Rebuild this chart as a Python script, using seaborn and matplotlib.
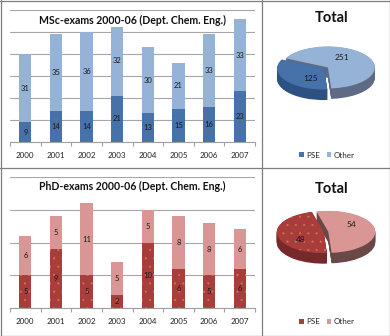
import numpy as np
import pandas as pd
import matplotlib
matplotlib.use("Agg")
import matplotlib.pyplot as plt
import seaborn as sns
from matplotlib.lines import Line2D

# ---- data -------------------------------------------------------------
years = ["2000", "2001", "2002", "2003", "2004", "2005", "2006", "2007"]
msc_pse = [9, 14, 14, 21, 13, 15, 16, 23]
msc_other = [31, 35, 36, 32, 30, 21, 33, 33]
phd_pse = [5, 9, 5, 2, 10, 6, 5, 6]
phd_other = [6, 5, 11, 5, 5, 8, 8, 6]
series_names = ["PSE", "Other"]

# ---- style ------------------------------------------------------------
sns.set_theme(style="white")
plt.rcParams["font.family"] = ["Lato", "DejaVu Sans"]
plt.rcParams["hatch.linewidth"] = 0.3

W, H = 390, 336
fig = plt.figure(figsize=(W / 100, H / 100), dpi=100)
fig.patch.set_facecolor("white")


def px_axes(x0, y0, x1, y1):
    """Axes placed by pixel box (top-left origin)."""
    return fig.add_axes([x0 / W, 1 - y1 / H, (x1 - x0) / W, (y1 - y0) / H])


def stacked_bars(ax, pse, other, dark, light, title, ymax, step, hatch=None, dotcolor=None):
    df = pd.DataFrame({"year": years, "PSE": pse, "Other": other})
    df["Total"] = df["PSE"] + df["Other"]
    kw = dict(saturation=1, width=0.4, ax=ax, linewidth=0)
    sns.barplot(data=df, x="year", y="Total", color=light, **kw)
    if hatch:
        kw.update(hatch=hatch, edgecolor=dotcolor)
    sns.barplot(data=df, x="year", y="PSE", color=dark, **kw)

    # value labels inside each segment
    ax.bar_label(ax.containers[1], labels=[str(v) for v in pse],
                 label_type="center", fontsize=5.5, color="#1a1a1a")
    for i, (p, o) in enumerate(zip(pse, other)):
        ax.text(i, p + o / 2, str(o), ha="center", va="center",
                fontsize=5.5, color="#1a1a1a")

    ax.set_ylim(0, ymax)
    ax.set_xlim(-0.5, len(years) - 0.5)
    ax.set_yticks(np.arange(0, ymax + step, step))
    ax.set_yticklabels([])
    ax.yaxis.grid(True, color="#a6a6a6", linewidth=0.8)
    ax.set_axisbelow(True)
    ax.set_xlabel("")
    ax.set_ylabel("")
    for s in ["top", "right", "left"]:
        ax.spines[s].set_visible(False)
    ax.spines["bottom"].set_color("#a0a0a0")
    ax.spines["bottom"].set_linewidth(0.8)
    ax.set_xticks(range(len(years)))
    ax.set_xticklabels(years, fontsize=5.8, color="#222222")
    ax.set_xticks(np.arange(-0.5, len(years), 1), minor=True)
    ax.tick_params(axis="x", which="major", length=0, pad=7)
    ax.tick_params(axis="x", which="minor", bottom=True, length=3,
                   width=0.8, color="#a0a0a0")
    ax.tick_params(axis="y", length=0)
    ax.text(0.5, 1 - 10 / 132, title, transform=ax.transAxes, ha="center",
            va="center", fontsize=7.6, fontweight="bold", color="#111111",
            bbox=dict(facecolor="white", edgecolor="none", pad=1.0))


def pie_3d(ax, values, top_colors, side_colors, hatch=None, dotcolor=None):
    total = sum(values)
    depth = 0.5
    explode = [0.05, 0.05]
    # extruded rim: stacked copies of the disc shifted downwards
    for d in np.linspace(depth, 0.02, 16):
        ax.pie(values, colors=side_colors, startangle=274, counterclock=False,
               explode=explode, center=(0, -d),
               wedgeprops=dict(linewidth=0))
    wedges, _, autotexts = ax.pie(
        values, colors=top_colors, startangle=274, counterclock=False,
        explode=explode, autopct=lambda p: f"{p * total / 100:.0f}",
        pctdistance=0.62, textprops=dict(fontsize=6, color="#1a1a1a"),
        wedgeprops=dict(linewidth=0))
    if hatch:
        wedges[0].set_hatch(hatch)
        wedges[0].set_edgecolor(dotcolor)
    # labels sit a little toward the upper side of the tilted disc
    for w, t in zip(wedges, autotexts):
        mid = np.deg2rad((w.theta1 + w.theta2) / 2 + 25)
        t.set_position((0.66 * np.cos(mid), 0.6 * np.sin(mid)))
    ax.set_aspect("auto")
    ax.set_xlim(-1.364, 1.364)
    ax.set_ylim(-2.095, 1.905)
    ax.axis("off")
    return wedges


msc_dark, msc_light = "#4672a9", "#95b3d7"
msc_side = ["#2d5182", "#5d6c84"]
phd_dark, phd_light = "#a93d3c", "#d99694"
phd_side = ["#76292a", "#6a4848"]
dots = "#c87850"

# ---- bar charts -------------------------------------------------------
ax1 = px_axes(10, 10, 255, 142)
stacked_bars(ax1, msc_pse, msc_other, msc_dark, msc_light,
             "MSc-exams 2000-06 (Dept. Chem. Eng.)", 60, 10)

ax2 = px_axes(10, 177, 255, 308)
stacked_bars(ax2, phd_pse, phd_other, phd_dark, phd_light,
             "PhD-exams 2000-06 (Dept. Chem. Eng.)", 20, 5,
             hatch="..", dotcolor=dots)

# ---- total pies -------------------------------------------------------
pax1 = px_axes(262, 28, 390, 112)
w1 = pie_3d(pax1, [sum(msc_pse), sum(msc_other)], [msc_dark, msc_light], msc_side)
pax2 = px_axes(262, 192, 390, 276)
w2 = pie_3d(pax2, [sum(phd_pse), sum(phd_other)], [phd_dark, phd_light], phd_side,
            hatch="..", dotcolor=dots)

for y_title, y_leg, wedges in [(18, 155, w1), (189, 322, w2)]:
    fig.text(332 / W, 1 - y_title / H, "Total", ha="center", va="center",
             fontsize=10.5, fontweight="bold", color="#111111")
    fig.legend(wedges, series_names, loc="center",
               bbox_to_anchor=(327 / W, 1 - y_leg / H), ncol=2, frameon=False,
               fontsize=5.8, handlelength=0.6, handleheight=0.6,
               columnspacing=0.8, handletextpad=0.3, borderpad=0)

# ---- panel frame ------------------------------------------------------
frame = "#7f7f7f"
for xs, ys in [([262 / W, 262 / W], [0, 1]),
               ([0, 1], [1 - 168 / H, 1 - 168 / H]),
               ([0.5 / W, 0.5 / W], [0, 1]),
               ([1 - 0.5 / W, 1 - 0.5 / W], [0, 1]),
               ([0, 1], [1 - 0.5 / H, 1 - 0.5 / H]),
               ([0, 1], [0.5 / H, 0.5 / H])]:
    fig.add_artist(Line2D(xs, ys, color=frame, linewidth=0.9,
                          transform=fig.transFigure))

fig.savefig("out.png", dpi=100, facecolor="white")
